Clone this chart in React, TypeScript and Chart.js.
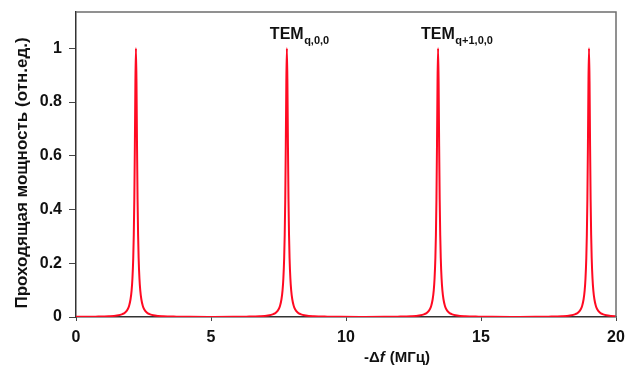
import React, { useEffect, useRef } from "react";
import { Chart, registerables } from "chart.js";

Chart.register(...registerables);

// Resonance peak centres (MHz)
const peakCenters = [2.22, 7.81, 13.41, 19.0];
// Shape of one transmission peak: frequency offset from centre (MHz) and relative power
const profileOffsets = [
  -2.7, -2.0, -1.5, -1.0, -0.7, -0.5, -0.4, -0.3, -0.25, -0.2, -0.16, -0.13, -0.1, -0.08, -0.06, -0.04, -0.02, 0,
  0.02, 0.04, 0.06, 0.08, 0.1, 0.13, 0.16, 0.2, 0.25, 0.3, 0.4, 0.5, 0.7, 1.0, 1.5, 2.0, 2.7,
];
const profileValues = [
  0.0004, 0.0007, 0.0013, 0.0028, 0.0057, 0.011, 0.017, 0.03, 0.043, 0.066, 0.099, 0.143, 0.219, 0.305, 0.438, 0.637, 0.875, 1.0,
  0.875, 0.637, 0.438, 0.305, 0.219, 0.143, 0.099, 0.066, 0.043, 0.03, 0.017, 0.011, 0.0057, 0.0028, 0.0013, 0.0007, 0.0004,
];
const xTicks = [0, 5, 10, 15, 20];
const yTicks = [0, 0.2, 0.4, 0.6, 0.8, 1];
const yTitle = "Проходящая мощность (отн.ед.)";
const peakLabels = [
  { main: "TEM", sub: "q,0,0", at: 7.81 },
  { main: "TEM", sub: "q+1,0,0", at: 13.41 },
];

const FONT = "'Liberation Sans', Arial, sans-serif";

export default function App() {
  const ref = useRef<HTMLCanvasElement | null>(null);

  useEffect(() => {
    document.body.style.margin = "0";
    const canvas = ref.current;
    if (!canvas) return;

    const points: { x: number; y: number }[] = [];
    peakCenters.forEach((c) => {
      profileOffsets.forEach((o, i) => points.push({ x: c + o, y: profileValues[i] }));
    });

    const decor = {
      id: "decor",
      afterDraw(chart: any) {
        const { ctx, chartArea } = chart;
        const xs = chart.scales.x;
        ctx.save();
        // frame top & right
        ctx.strokeStyle = "#6e6e6e";
        ctx.lineWidth = 1.5;
        ctx.beginPath();
        ctx.moveTo(chartArea.left, chartArea.top);
        ctx.lineTo(chartArea.right, chartArea.top);
        ctx.lineTo(chartArea.right, chartArea.bottom);
        ctx.stroke();

        // y title
        ctx.fillStyle = "#111";
        ctx.font = `bold 17px ${FONT}`;
        ctx.translate(22, 173);
        ctx.rotate(-Math.PI / 2);
        ctx.textAlign = "center";
        ctx.textBaseline = "middle";
        ctx.fillText(yTitle, 0, 0);
        ctx.setTransform(1, 0, 0, 1, 0, 0);

        // x title: -Δf (МГц)
        ctx.textAlign = "left";
        ctx.textBaseline = "alphabetic";
        const parts = [
          { t: "-Δ", f: `bold 15px ${FONT}` },
          { t: "f", f: `italic bold 15px ${FONT}` },
          { t: " (МГц)", f: `bold 15px ${FONT}` },
        ];
        let total = 0;
        parts.forEach((p) => {
          ctx.font = p.f;
          total += ctx.measureText(p.t).width + (p.t === "f" ? 1 : 0);
        });
        let px = 397 - total / 2;
        parts.forEach((p) => {
          ctx.font = p.f;
          ctx.fillText(p.t, px, 362);
          px += ctx.measureText(p.t).width + (p.t === "f" ? 1 : 0);
        });

        // peak labels
        peakLabels.forEach((l) => {
          const cx = xs.getPixelForValue(l.at);
          ctx.font = `bold 16px ${FONT}`;
          const w1 = ctx.measureText(l.main).width;
          const start = cx - 17;
          ctx.fillText(l.main, start, 39);
          ctx.font = `bold 11px ${FONT}`;
          ctx.fillText(l.sub, start + w1 + 0.5, 44);
        });
        ctx.restore();
      },
    };

    const chart = new Chart(canvas, {
      type: "line",
      data: {
        datasets: [
          {
            data: points,
            borderColor: "#ff0a22",
            borderWidth: 2,
            pointRadius: 0,
            cubicInterpolationMode: "monotone",
            fill: false,
          },
        ],
      },
      options: {
        animation: false,
        responsive: false,
        devicePixelRatio: 1,
        layout: { padding: { top: 12, right: 11, left: 0, bottom: 0 } },
        plugins: { legend: { display: false }, tooltip: { enabled: false } },
        scales: {
          x: {
            type: "linear",
            min: 0,
            max: 20,
            afterBuildTicks: (s: any) => {
              s.ticks = xTicks.map((v) => ({ value: v }));
            },
            afterFit: (s: any) => {
              s.height = 55;
              s.paddingLeft = 0;
              s.paddingRight = 0;
            },
            grid: { drawOnChartArea: false, drawTicks: true, tickLength: 4, color: "#444" },
            border: { display: true, color: "#333", width: 1.5 },
            ticks: {
              color: "#111",
              font: { family: FONT, weight: "bold", size: 16 },
              padding: 7,
              maxRotation: 0,
              callback: (v: any) => String(v),
            },
          },
          y: {
            min: 0,
            max: 1.135,
            afterBuildTicks: (s: any) => {
              s.ticks = yTicks.map((v) => ({ value: v }));
            },
            afterFit: (s: any) => {
              s.width = 76;
              s.paddingTop = 0;
              s.paddingBottom = 0;
            },
            grid: { drawOnChartArea: false, drawTicks: true, tickLength: 7, color: "#444" },
            border: { display: true, color: "#333", width: 1.5 },
            ticks: {
              color: "#111",
              font: { family: FONT, weight: "bold", size: 16 },
              padding: 7,
              callback: (v: any) => String(Math.round(v * 10) / 10),
            },
          },
        },
      },
      plugins: [decor],
    } as any);

    return () => chart.destroy();
  }, []);

  return <canvas ref={ref} width={627} height={372} style={{ display: "block", width: 627, height: 372 }} />;
}
